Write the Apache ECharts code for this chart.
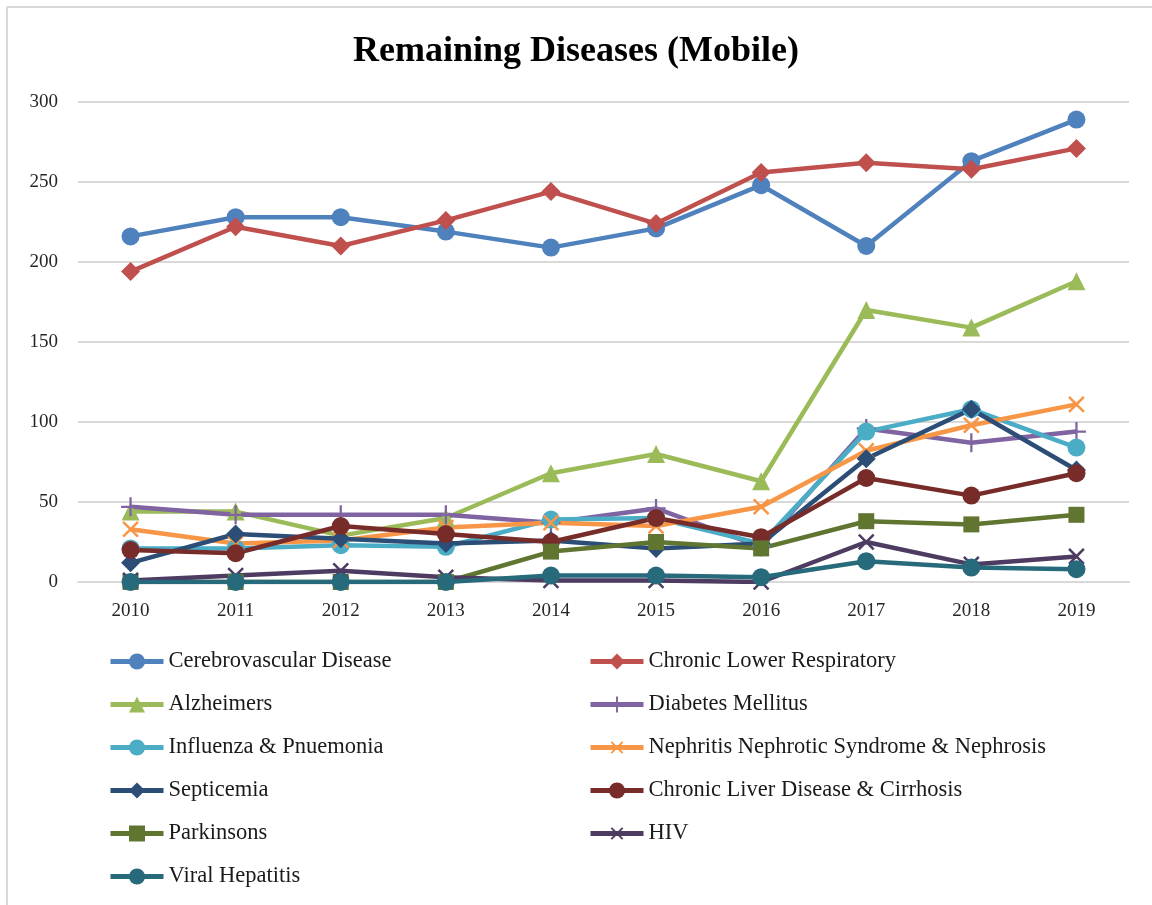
<!DOCTYPE html>
<html>
<head>
<meta charset="utf-8">
<script src="https://cdn.jsdelivr.net/npm/echarts@6/dist/echarts.min.js"></script>
<style>
html,body{margin:0;padding:0;background:#fff;}
#chart{width:1152px;height:905px;}
</style>
</head>
<body>
<div id="chart"></div>
<script>
const years = ['2010','2011','2012','2013','2014','2015','2016','2017','2018','2019'];
const cerebrovascular = [216, 228, 228, 219, 209, 221, 248, 210, 263, 289];
const chronicLowerResp = [194, 222, 210, 226, 244, 224, 256, 262, 258, 271];
const alzheimers = [44, 44, 29, 40, 68, 80, 63, 170, 159, 188];
const diabetes = [47, 42, 42, 42, 37, 46, 22, 96, 87, 94];
const influenza = [21, 21, 23, 22, 39, 40, 24, 94, 108, 84];
const nephritis = [33, 24, 26, 34, 37, 35, 47, 82, 98, 111];
const septicemia = [12, 30, 27, 24, 26, 21, 24, 77, 108, 70];
const liver = [20, 18, 35, 30, 25, 40, 28, 65, 54, 68];
const parkinsons = [0, 0, 0, 0, 19, 25, 21, 38, 36, 42];
const hiv = [1, 4, 7, 3, 1, 1, 0, 25, 11, 16];
const viralHepatitis = [0, 0, 0, 0, 4, 4, 3, 13, 9, 8];
const yTicks = [0, 50, 100, 150, 200, 250, 300];

const plusPath = 'path://M-1.2,-10 L1.2,-10 L1.2,-1.2 L10,-1.2 L10,1.2 L1.2,1.2 L1.2,10 L-1.2,10 L-1.2,1.2 L-10,1.2 L-10,-1.2 L-1.2,-1.2 Z';

const seriesDefs = [
  {name:'Cerebrovascular Disease', data:cerebrovascular, color:'#4F81BD', symbol:'circle', size:18},
  {name:'Chronic Lower Respiratory', data:chronicLowerResp, color:'#C0504D', symbol:'diamond', size:19},
  {name:'Alzheimers', data:alzheimers, color:'#9BBB59', symbol:'triangle', size:18},
  {name:'Diabetes Mellitus', data:diabetes, color:'#8064A2', symbol:plusPath, size:19},
  {name:'Influenza & Pnuemonia', data:influenza, color:'#4BACC6', symbol:'circle', size:18},
  {name:'Nephritis Nephrotic Syndrome & Nephrosis', data:nephritis, color:'#F79646', symbol:plusPath, size:21, rotate:45},
  {name:'Septicemia', data:septicemia, color:'#2C4D75', symbol:'diamond', size:19},
  {name:'Chronic Liver Disease & Cirrhosis', data:liver, color:'#772C2A', symbol:'circle', size:18},
  {name:'Parkinsons', data:parkinsons, color:'#5F7530', symbol:'rect', size:16},
  {name:'HIV', data:hiv, color:'#4D3B62', symbol:plusPath, size:21, rotate:45},
  {name:'Viral Hepatitis', data:viralHepatitis, color:'#276A7C', symbol:'circle', size:18}
];

const fontFam = '"Liberation Serif", "DejaVu Serif", serif';

const series = seriesDefs.map(d => ({
  name: d.name,
  type: 'line',
  data: d.data,
  symbol: d.symbol,
  symbolSize: d.size,
  symbolRotate: d.rotate || 0,
  symbolKeepAspect: true,
  showAllSymbol: true,
  itemStyle: {color: d.color, borderWidth: 0},
  lineStyle: {color: d.color, width: 4.5},
  emphasis: {disabled: true},
  animation: false
}));

const legendText = {fontFamily: fontFam, fontSize: 22.5, color: '#1a1a1a'};
const col1 = [0,2,4,6,8,10].map(i => seriesDefs[i].name);
const col2 = [1,3,5,7,9].map(i => seriesDefs[i].name);
const legendCommon = {
  orient: 'vertical', top: 645, itemWidth: 53, itemHeight: 20, itemGap: 20,
  textStyle: legendText, selectedMode: false,
  lineStyle: {width: 5}
};

const chart = echarts.init(document.getElementById('chart'), null, {renderer:'canvas'});
chart.setOption({
  backgroundColor: '#fff',
  animation: false,
  title: {
    text: 'Remaining Diseases (Mobile)',
    left: 'center',
    top: 29,
    textStyle: {fontFamily: fontFam, fontSize: 36, fontWeight: 'bold', color: '#000'}
  },
  graphic: [
    {type: 'line', shape: {x1: 7, y1: 7, x2: 1152, y2: 7}, style: {stroke: '#d9d9d9', lineWidth: 2}, silent: true},
    {type: 'line', shape: {x1: 7, y1: 7, x2: 7, y2: 905}, style: {stroke: '#d9d9d9', lineWidth: 2}, silent: true}
  ],
  grid: {left: 78, right: 23, top: 102, bottom: 323, containLabel: false},
  xAxis: {
    type: 'category',
    data: years,
    boundaryGap: true,
    axisLine: {lineStyle: {color: '#d9d9d9', width: 2}},
    axisTick: {show: false},
    axisLabel: {fontFamily: fontFam, fontSize: 19, color: '#262626', margin: 20}
  },
  yAxis: {
    type: 'value',
    min: yTicks[0],
    max: yTicks[yTicks.length-1],
    interval: yTicks[1]-yTicks[0],
    axisLine: {show: false},
    axisTick: {show: false},
    splitLine: {lineStyle: {color: '#d9d9d9', width: 2}},
    axisLabel: {fontFamily: fontFam, fontSize: 19, color: '#262626', margin: 20}
  },
  legend: [
    Object.assign({data: col1, left: 103}, legendCommon),
    Object.assign({data: col2, left: 583}, legendCommon)
  ],
  series: series
});
</script>
</body>
</html>
